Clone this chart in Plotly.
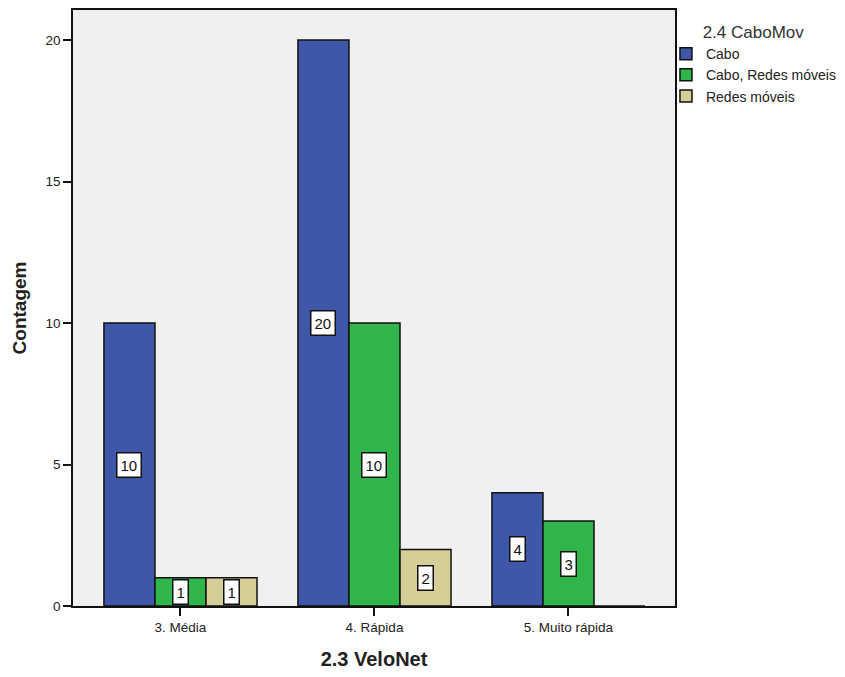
import plotly.graph_objects as go

categories = ["3. Média", "4. Rápida", "5. Muito rápida"]
series_names = ["Cabo", "Cabo, Redes móveis", "Redes móveis"]
cabo = [10, 20, 4]
cabo_redes = [1, 10, 3]
redes = [1, 2, 0]
colors = ["#3F57A9", "#30B54A", "#D6CE97"]

values = [cabo, cabo_redes, redes]
xpos = list(range(len(categories)))
bar_w = 0.263
offsets = [-1.5 * bar_w, -0.5 * bar_w, 0.5 * bar_w]
FONT = "Liberation Sans, Arial"

fig = go.Figure()
annotations = []
for name, vals, col, off in zip(series_names, values, colors, offsets):
    fig.add_trace(go.Bar(
        x=xpos, y=vals, name=name, width=bar_w, offset=off,
        marker=dict(color=col, line=dict(color="#111111", width=1.5)),
    ))
    for xi, v in zip(xpos, vals):
        if v > 0:
            annotations.append(dict(
                x=xi + off + bar_w / 2, y=v / 2, xref="x", yref="y",
                text=str(v), showarrow=False,
                font=dict(size=15, color="#111111", family=FONT),
                bgcolor="white", bordercolor="#111111", borderwidth=1.5, borderpad=3,
            ))

fig.update_layout(
    width=845, height=677,
    margin=dict(l=65, r=178, t=0, b=79),
    paper_bgcolor="white", plot_bgcolor="#F0F0F0",
    font=dict(family=FONT, color="#222222", size=13),
    showlegend=True,
    legend=dict(
        x=0.985, y=0.99, xref="paper", yref="paper", xanchor="left", yanchor="top",
        title=dict(text="2.4 CaboMov", font=dict(size=17, color="#333333"), side="top center"),
        font=dict(size=14, color="#222222"),
        bgcolor="rgba(0,0,0,0)", tracegroupgap=0,
        traceorder="normal",
    ),
    annotations=annotations,
)
fig.update_xaxes(
    range=[-0.554, 2.549], tickvals=xpos, ticktext=categories,
    showline=True, linecolor="#111111", linewidth=1.5, mirror=True,
    ticks="outside", ticklen=8, tickcolor="#111111", tickwidth=1.5,
    tickfont=dict(size=13.5, color="#222222"), showgrid=False, zeroline=False,
    title=dict(text="<b>2.3 VeloNet</b>", font=dict(size=20, color="#222222"), standoff=18),
)
fig.update_yaxes(
    range=[0, 21.06], tickvals=[0, 5, 10, 15, 20],
    showline=True, linecolor="#111111", linewidth=1.5, mirror=True,
    ticks="outside", ticklen=8, tickcolor="#111111", tickwidth=1.5,
    tickfont=dict(size=13.5, color="#222222"), showgrid=False, zeroline=False,
    title=dict(text="<b>Contagem</b>", font=dict(size=19, color="#222222"), standoff=14),
)
fig.write_html("out.html")
